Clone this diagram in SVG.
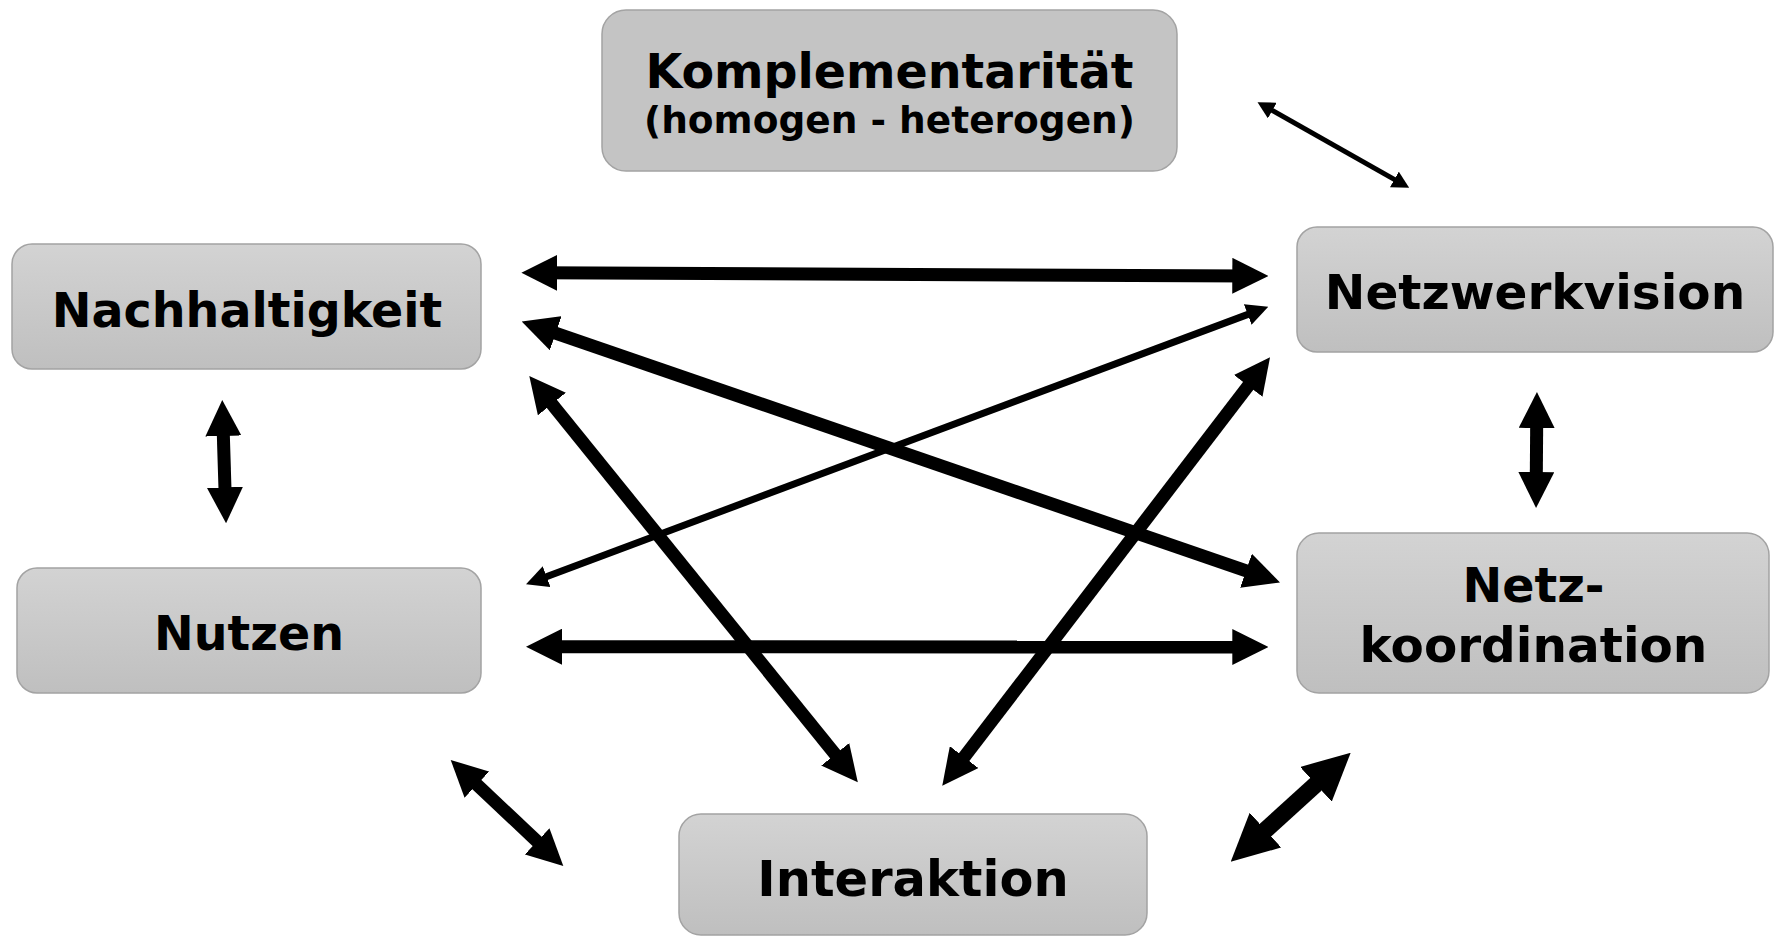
<svg xmlns="http://www.w3.org/2000/svg" width="1777" height="937" viewBox="0 0 1777 937">
  <defs>
    <linearGradient id="boxFill" x1="0" y1="0" x2="0" y2="1">
      <stop offset="0" stop-color="#d3d3d3"/>
      <stop offset="1" stop-color="#bfbfbf"/>
    </linearGradient>
    <!-- arrowheads: the tip sits half a head-length beyond the line end -->
    <marker id="headBig" viewBox="0 0 36 36" markerUnits="userSpaceOnUse" markerWidth="36" markerHeight="36" refX="18" refY="18" orient="auto-start-reverse">
      <path d="M0,0 L36,18 L0,36 Z" fill="#000"/>
    </marker>
    <marker id="headThin" viewBox="0 0 22 22" markerUnits="userSpaceOnUse" markerWidth="22" markerHeight="22" refX="11" refY="11" orient="auto-start-reverse">
      <path d="M0,0 L22,11 L0,22 Z" fill="#000"/>
    </marker>
    <marker id="headTiny" viewBox="0 0 17 18" markerUnits="userSpaceOnUse" markerWidth="17" markerHeight="18" refX="9" refY="9" orient="auto-start-reverse">
      <path d="M0,0 L17,9 L0,18 Z" fill="#000"/>
    </marker>
    <marker id="headHuge" viewBox="0 0 47 47" markerUnits="userSpaceOnUse" markerWidth="47" markerHeight="47" refX="23.5" refY="23.5" orient="auto-start-reverse">
      <path d="M0,0 L47,23.5 L0,47 Z" fill="#000"/>
    </marker>
  </defs>
  <style>
    .box { fill: url(#boxFill); stroke: #a3a3a3; stroke-width: 1.5; }
    .box.flat { fill: #c4c4c4; }
    .label { font-family: "DejaVu Sans", Verdana, sans-serif; font-weight: bold; font-size: 47.5px; fill: #000; text-anchor: middle; }
    .sub { font-size: 37.5px; }
    .wide { font-size: 48.5px; }
    .arrow { fill: none; stroke: #000; stroke-linecap: butt; }
    .big { stroke-width: 13; marker-start: url(#headBig); marker-end: url(#headBig); }
    .thin { stroke-width: 7; marker-start: url(#headThin); marker-end: url(#headThin); }
    .tiny { stroke-width: 5; marker-start: url(#headTiny); marker-end: url(#headTiny); }
    .huge { stroke-width: 17; marker-start: url(#headHuge); marker-end: url(#headHuge); }
  </style>
  <rect width="1777" height="937" fill="#ffffff"/>

  <g id="connectors">
    <!-- Nachhaltigkeit - Netzwerkvision -->
    <line class="arrow big" x1="539.4" y1="272.8" x2="1250.3" y2="275.9"/>
    <!-- Nachhaltigkeit - Netzkoordination -->
    <line class="arrow big" x1="538.7" y1="327.4" x2="1263" y2="576.6"/>
    <!-- Nutzen - Netzwerkvision -->
    <line class="arrow thin" x1="536.3" y1="580.5" x2="1258" y2="310.6"/>
    <!-- Nutzen - Netzkoordination -->
    <line class="arrow big" x1="544" y1="646.7" x2="1250.3" y2="647"/>
    <!-- Nachhaltigkeit - Interaktion -->
    <line class="arrow big" x1="540.6" y1="390" x2="846.5" y2="768.3"/>
    <!-- Netzwerkvision - Interaktion -->
    <line class="arrow big" x1="1259.1" y1="371.6" x2="953.2" y2="771.4"/>
    <!-- Nachhaltigkeit - Nutzen -->
    <line class="arrow big" x1="222.8" y1="418" x2="225.5" y2="505.3"/>
    <!-- Netzwerkvision - Netzkoordination -->
    <line class="arrow big" x1="1536.8" y1="410" x2="1536.2" y2="490"/>
    <!-- Komplementaritaet - Netzwerkvision -->
    <line class="arrow tiny" x1="1264.5" y1="106.1" x2="1402.2" y2="183.9"/>
    <!-- Nutzen - Interaktion -->
    <line class="arrow big" x1="463.8" y1="772.3" x2="550.2" y2="853.7"/>
    <!-- Interaktion - Netzkoordination -->
    <line class="arrow huge" x1="1333.3" y1="768.5" x2="1248.1" y2="845.9"/>
  </g>

  <g id="komplementaritaet">
    <rect class="box flat" x="602" y="10" width="575" height="161" rx="24"/>
    <text class="label" x="889.5" y="88">Komplementarität</text>
    <text class="label sub" x="889.5" y="133">(homogen - heterogen)</text>
  </g>

  <g id="nachhaltigkeit">
    <rect class="box" x="12" y="244" width="469" height="125" rx="20"/>
    <text class="label" x="247" y="326.5">Nachhaltigkeit</text>
  </g>

  <g id="netzwerkvision">
    <rect class="box" x="1297" y="227" width="476" height="125" rx="20"/>
    <text class="label wide" x="1535" y="308.5">Netzwerkvision</text>
  </g>

  <g id="nutzen">
    <rect class="box" x="17" y="568" width="464" height="125" rx="20"/>
    <text class="label" x="249" y="650">Nutzen</text>
  </g>

  <g id="netzkoordination">
    <rect class="box" x="1297" y="533" width="472" height="160" rx="22"/>
    <text class="label" x="1533.5" y="601.5">Netz-</text>
    <text class="label wide" x="1533.5" y="661.5">koordination</text>
  </g>

  <g id="interaktion">
    <rect class="box" x="679" y="814" width="468" height="121" rx="22"/>
    <text class="label" x="913" y="896" style="font-size:49.5px">Interaktion</text>
  </g>
</svg>
